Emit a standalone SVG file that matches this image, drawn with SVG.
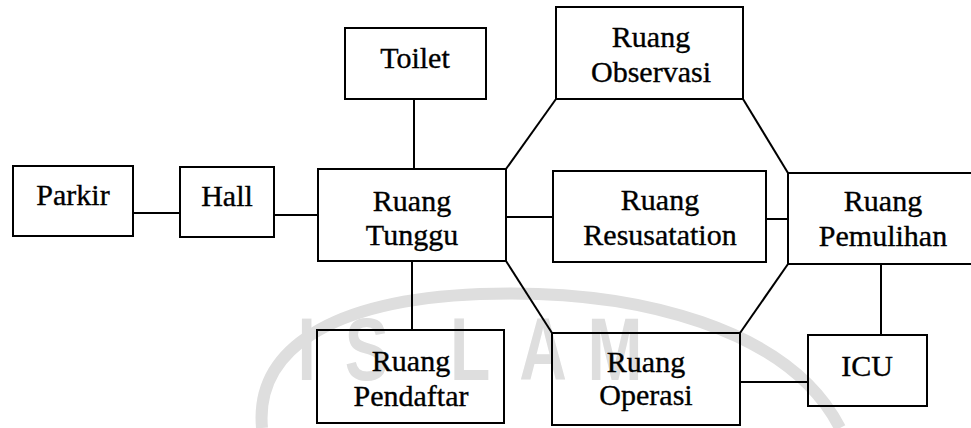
<svg xmlns="http://www.w3.org/2000/svg" width="971" height="428" viewBox="0 0 971 428">
  <style>
    .box { fill: none; stroke: #000000; stroke-width: 2; }
    .link { fill: none; stroke: #000000; stroke-width: 2; }
    .label { font-family: "Liberation Serif", "Times New Roman", serif; font-size: 30px; fill: #000000; stroke: #000000; stroke-width: 0.35; text-anchor: middle; }
    .mark { font-family: "Liberation Sans", Arial, sans-serif; font-weight: bold; font-size: 88px; fill: #dedede; text-anchor: middle; }
    .ring { fill: none; stroke: #dedede; stroke-width: 12; }
  </style>

  <rect width="971" height="428" fill="#ffffff"/>

  <!-- faint background emblem, drawn first so every box and line sits on top -->
  <g id="emblem">
    <path class="ring" d="M 262 428 C 255 350, 330 300, 480 294 C 640 288, 790 330, 840 428"/>
    <g transform="scale(0.75,1)">
      <text class="mark"><tspan x="409" y="380">I</tspan><tspan x="489" y="380">S</tspan><tspan x="627" y="380">L</tspan><tspan x="724" y="380">A</tspan><tspan x="820" y="380">M</tspan></text>
    </g>
  </g>

  <!-- connectors -->
  <g id="connectors">
    <line class="link" x1="133" y1="213" x2="180" y2="213"/>
    <line class="link" x1="274" y1="215" x2="318" y2="215"/>
    <line class="link" x1="414" y1="99" x2="414" y2="169"/>
    <line class="link" x1="412" y1="261" x2="412" y2="330"/>
    <line class="link" x1="506" y1="217" x2="553" y2="217"/>
    <line class="link" x1="766" y1="219" x2="788" y2="219"/>
    <line class="link" x1="881" y1="264" x2="881" y2="335"/>
    <line class="link" x1="740" y1="382" x2="808" y2="382"/>
    <line class="link" x1="506" y1="169" x2="556" y2="99"/>
    <line class="link" x1="743" y1="99" x2="788" y2="173"/>
    <line class="link" x1="506" y1="261" x2="552" y2="333"/>
    <line class="link" x1="788" y1="264" x2="740" y2="333"/>
  </g>

  <g id="parkir">
    <rect class="box" x="13" y="166" width="120" height="70"/>
    <text class="label" x="73" y="205">Parkir</text>
  </g>

  <g id="hall">
    <rect class="box" x="180" y="167" width="94" height="70"/>
    <text class="label" x="227" y="206">Hall</text>
  </g>

  <g id="toilet">
    <rect class="box" x="345" y="28" width="141" height="71"/>
    <text class="label" x="415" y="68">Toilet</text>
  </g>

  <g id="ruang-tunggu">
    <rect class="box" x="318" y="169" width="188" height="92"/>
    <text class="label" x="412" y="211">Ruang</text>
    <text class="label" x="412" y="245">Tunggu</text>
  </g>

  <g id="ruang-observasi">
    <rect class="box" x="556" y="7" width="187" height="92"/>
    <text class="label" x="651" y="47">Ruang</text>
    <text class="label" x="651" y="82">Observasi</text>
  </g>

  <g id="ruang-resusatation">
    <rect class="box" x="553" y="171" width="213" height="91"/>
    <text class="label" x="660" y="210">Ruang</text>
    <text class="label" x="660" y="245">Resusatation</text>
  </g>

  <g id="ruang-pemulihan">
    <rect class="box" x="788" y="173" width="190" height="91"/>
    <text class="label" x="883" y="211">Ruang</text>
    <text class="label" x="883" y="246">Pemulihan</text>
  </g>

  <g id="ruang-pendaftar">
    <rect class="box" x="317" y="330" width="187" height="93"/>
    <text class="label" x="411" y="371">Ruang</text>
    <text class="label" x="411" y="406">Pendaftar</text>
  </g>

  <g id="ruang-operasi">
    <rect class="box" x="552" y="333" width="188" height="92"/>
    <text class="label" x="646" y="372">Ruang</text>
    <text class="label" x="646" y="405">Operasi</text>
  </g>

  <g id="icu">
    <rect class="box" x="808" y="335" width="119" height="71"/>
    <text class="label" x="867" y="376">ICU</text>
  </g>
</svg>
